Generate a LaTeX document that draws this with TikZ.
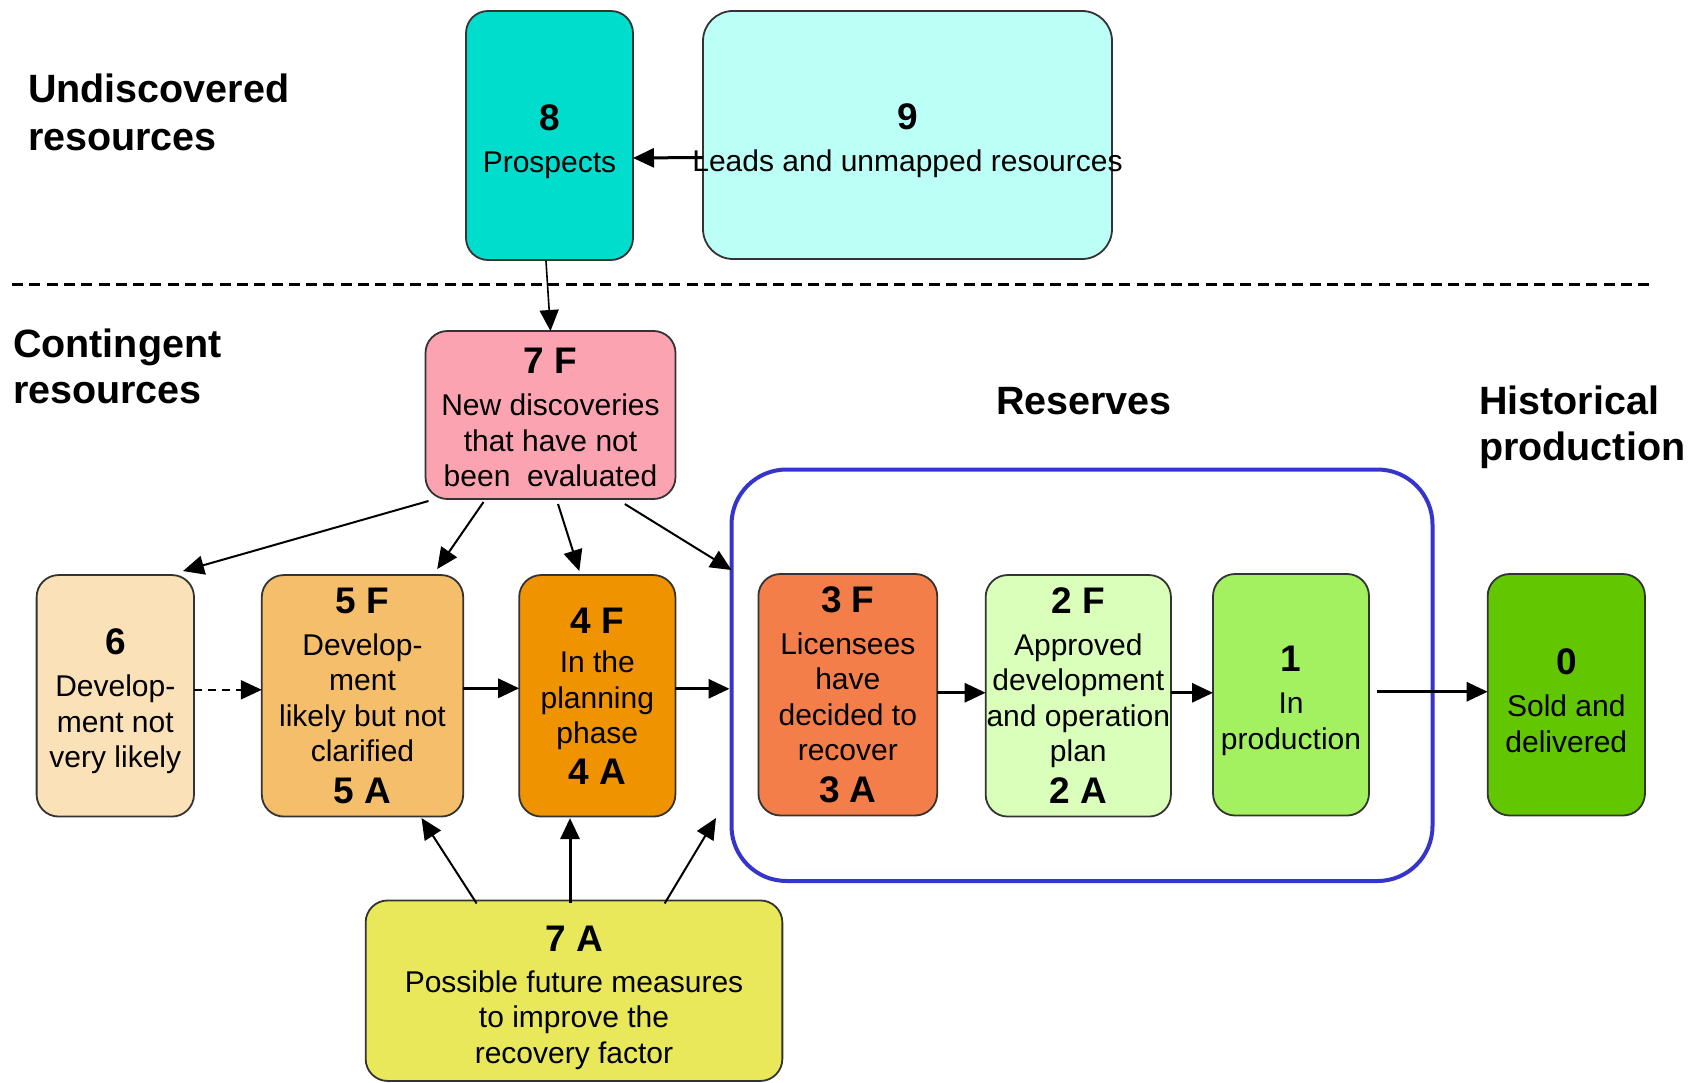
\documentclass[tikz,border=0pt]{standalone}
\usepackage{fontspec}
\setmainfont{Liberation Sans}
\usetikzlibrary{arrows.meta,calc}
\definecolor{c8}{RGB}{0,221,204}
\definecolor{c9}{RGB}{187,255,247}
\definecolor{c7f}{RGB}{252,163,178}
\definecolor{c6}{RGB}{251,225,184}
\definecolor{c5}{RGB}{245,190,107}
\definecolor{c4}{RGB}{240,147,0}
\definecolor{c3}{RGB}{244,126,74}
\definecolor{c2}{RGB}{218,255,187}
\definecolor{c1}{RGB}{163,240,96}
\definecolor{c0}{RGB}{98,198,0}
\definecolor{c7a}{RGB}{232,232,90}
\definecolor{resblue}{RGB}{53,53,204}
\newcommand\numlbl[1]{{\bfseries\fontsize{37}{42}\selectfont #1}}
\newcommand\toplbl[2]{{\bfseries\fontsize{37}{42}\selectfont\rule{0pt}{#1}#2}}
\begin{document}
\begin{tikzpicture}[x=1pt,y=-1pt,
  box/.style={draw=black!80, line width=1.8pt, rounded corners=22pt, inner sep=0pt, outer sep=0pt,
    align=center, font=\fontsize{30}{35.5}\selectfont, minimum height=241.5pt},
  title/.style={font=\bfseries\fontsize{39.5}{46}\selectfont, align=left, inner sep=0pt, outer sep=0pt, anchor=west},
  arr/.style={-{Triangle[length=21pt,width=19pt]}, line width=2pt},
  harr/.style={arr, line width=3pt}]
\useasboundingbox (0,0) rectangle (1689,1083);

% reserves frame
\node[draw=resblue, line width=4pt, rounded corners=55pt, minimum width=701pt, minimum height=411.5pt,
      inner sep=0pt, outer sep=0pt] (res) at (1082,675.25) {};

% titles
\node[title, font=\bfseries\fontsize{39.5}{48}\selectfont] (tund) at (28,112) {Undiscovered\\resources};
\node[title] (tcon) at (13,366.5) {Contingent\\resources};
\node[font=\bfseries\fontsize{39.5}{46}\selectfont, inner sep=0pt, anchor=base] (tres) at (1084,414) {Reserves};
\node[title] (this) at (1479,427) {Historical\\production};

% dashed separator
\coordinate (dl1) at (12,285);
\coordinate (dl2) at (1651,285);
\draw[line width=3pt, dash pattern=on 11pt off 6.3pt] (dl1) -- (dl2);

% boxes
\node[box, fill=c8, minimum width=167pt, minimum height=249pt] (n8) at (549.5,135.5) {\toplbl{37.5pt}{8}\\[6.5pt]Prospects};
\node[box, fill=c9, rounded corners=30pt, minimum width=409pt, minimum height=248pt] (n9) at (907.5,135) {\toplbl{37.5pt}{9}\\[6.5pt]\makebox[0pt]{Leads and unmapped resources}};
\node[box, fill=c7f, minimum width=250pt, minimum height=168pt] (n7f) at (550.5,415) {\toplbl{30.5pt}{7 F}\\[6.5pt]New discoveries\\that have not\\been\ \ evaluated};
\node[box, fill=c6, minimum width=157.4pt] (n6) at (115.3,695.8) {\toplbl{37.5pt}{6}\\[6.5pt]Develop-\\ment not\\very likely};
\node[box, fill=c5, minimum width=201.4pt] (n5f) at (362.5,695.8) {\numlbl{5 F}\\[6.5pt]Develop-\\ment\\likely but not\\clarified\\[6.5pt]\numlbl{5 A}};
\node[box, fill=c4, minimum width=156.2pt] (n4f) at (597.3,695.8) {\numlbl{4 F}\\[4pt]In the\\planning\\phase\\[5pt]\numlbl{4 A}};
\node[box, fill=c3, minimum width=178.8pt] (n3f) at (847.8,694.75) {\numlbl{3 F}\\[6.5pt]Licensees\\have\\decided to\\recover\\[6.5pt]\numlbl{3 A}};
\node[box, fill=c2, minimum width=185.3pt] (n2f) at (1078.3,695.8) {\numlbl{2 F}\\[6.5pt]Approved\\development\\and operation\\plan\\[6.5pt]\numlbl{2 A}};
\node[box, fill=c1, minimum width=156pt] (n1) at (1291,694.75) {\toplbl{37.5pt}{1}\\[6.5pt]In\\production};
\node[box, fill=c0, minimum width=157.3pt] (n0) at (1566.3,694.75) {\toplbl{37.5pt}{0}\\[6.5pt]Sold and\\delivered};
\node[box, fill=c7a, minimum width=416.7pt, minimum height=180.5pt] (n7a) at (574,990.7) {\toplbl{39.5pt}{7 A}\\[5.5pt]Possible future measures\\to improve the\\recovery factor};

% connectors
\draw[harr] ([yshift=-22.5pt]n9.west) -- ([yshift=-22.5pt]n8.east);
\draw[arr, line width=1.6pt] ($(n8.south)+(-3.5,1)$) -- (n7f.north);

\draw[arr] ($(n7f.south west)+(3,2)$) -- ($(n6.north east)+(-11,-4)$);
\draw[arr] ($(n7f.south west)+(58,3)$) -- ($(n5f.north east)+(-26,-6)$);
\draw[arr] ($(n7f.south)+(7.5,5)$) -- ($(n4f.north)+(-18,-4)$);
\draw[arr] ($(n7f.south east)+(-50.7,5)$) -- ($(res.north west)+(0,100.5)$);

\draw[arr, line width=2.5pt, dash pattern=on 8pt off 6pt] ([yshift=6pt]n6.east) -- ([yshift=6pt]n5f.west);
\draw[harr] ([yshift=7.5pt]n5f.east) -- ([yshift=7.5pt]n4f.west);
\coordinate (a4) at ([yshift=7pt]n4f.east);
\draw[harr] (a4) -- ($(a4 -| res.west)+(-2,0)$);
\coordinate (a3) at ([yshift=2pt]n3f.east);
\draw[harr] (a3) -- (a3 -| n2f.west);
\coordinate (a2) at ([yshift=3pt]n2f.east);
\draw[harr] (a2) -- (a2 -| n1.west);
\coordinate (a1) at ([xshift=8pt,yshift=3pt]n1.east);
\draw[harr] (a1) -- (a1 -| n0.west);

\draw[arr] ($(n7a.north west)+(111,3)$) -- ($(n5f.south)+(59,1.5)$);
\draw[arr, line width=3pt] ($(n7a.north)+(-4,3)$) -- ($(n4f.south)+(-27.3,1.5)$);
\coordinate (t3) at (716,818);
\draw[arr] ($(n7a.north east)+(-117.7,3)$) -- (t3);
\end{tikzpicture}
\end{document}
